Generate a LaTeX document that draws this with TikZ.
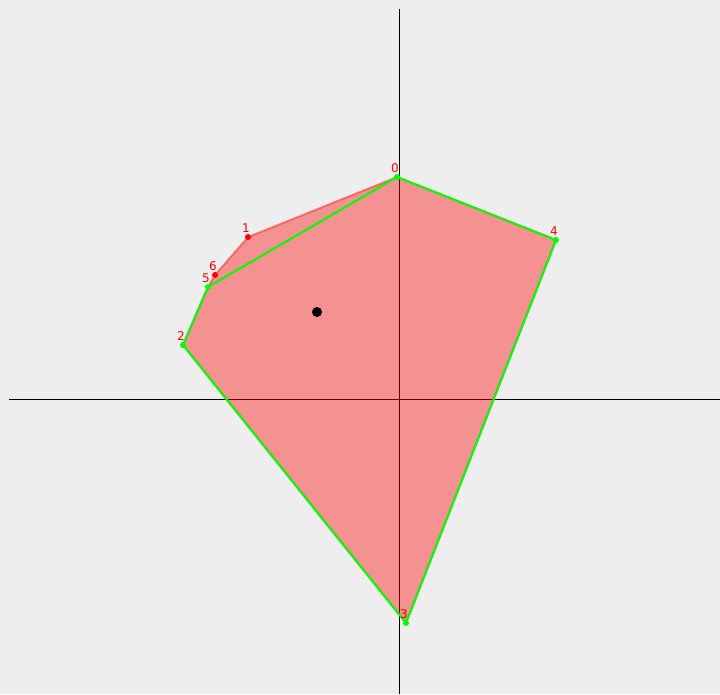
\documentclass[tikz,border=0pt]{standalone}
\usepackage{fontspec}
\setmainfont{DejaVu Sans}
\definecolor{bggray}{RGB}{238,238,238}
\definecolor{hullgreen}{RGB}{0,255,0}
\usetikzlibrary{positioning}

\tikzset{
  axis/.style={black,line width=0.9pt},
  hullline/.style={hullgreen,line width=2pt,line join=round},
  ptlabel/.style={text=red,font=\fontsize{12}{13}\selectfont,inner sep=0pt},
  hulldot/.style={circle,fill=hullgreen,inner sep=0pt,minimum size=6pt},
  innerdot/.style={circle,fill=red,inner sep=0pt,minimum size=6pt}
}

\begin{document}
\begin{tikzpicture}[x=1pt,y=-1pt]
  \fill[bggray] (0,0) rectangle (720,694);
  \useasboundingbox (0,0) rectangle (720,694);
  % axes
  \coordinate (xl) at (9,399);
  \coordinate (xr) at (720,399);
  \coordinate (yt) at (399.5,9);
  \coordinate (yb) at (399.5,694);
  \draw[axis] (xl) -- (xr);
  \draw[axis] (yt) -- (yb);
  % polygon points
  \coordinate (p0) at (397,177);
  \coordinate (p1) at (248,237);
  \coordinate (p2) at (183,345);
  \coordinate (p3) at (406,623);
  \coordinate (p4) at (556,240);
  \coordinate (p5) at (208,287);
  \coordinate (p6) at (215,275);
  \filldraw[fill=red,fill opacity=0.39,draw=red,draw opacity=0.4,line width=2pt,line join=round]
    (p0) -- (p1) -- (p6) -- (p5) -- (p2) -- (p3) -- (p4) -- cycle;
  % convex hull
  \draw[hullline] (p0) -- (p5) -- (p2) -- (p3) -- (p4) -- cycle;
  \foreach \i in {0,2,3,4,5} {
    \node[hulldot] (d\i) at (p\i) {};
  }
  \foreach \i in {1,6} {
    \node[innerdot] (d\i) at (p\i) {};
  }
  \foreach \i in {0,...,6} {
    \node[ptlabel] (l\i) at ([xshift=-2pt,yshift=9pt]p\i) {\i};
  }
  % centroid
  \node[circle,fill=black,inner sep=0pt,minimum size=10pt] (c) at (317,312) {};
\end{tikzpicture}
\end{document}
